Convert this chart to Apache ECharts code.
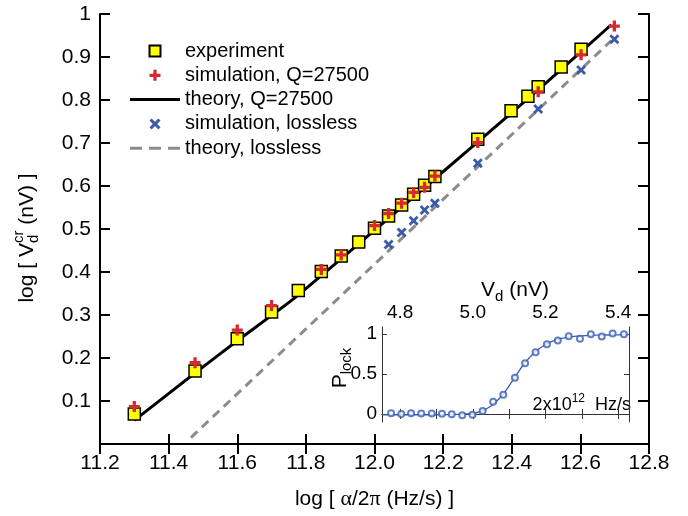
<!DOCTYPE html>
<html>
<head>
<meta charset="utf-8">
<script src="https://cdn.jsdelivr.net/npm/echarts@6/dist/echarts.min.js"></script>
<style>
  html, body { margin: 0; padding: 0; background: #fff; }
  #chart { width: 688px; height: 516px; }
</style>
</head>
<body>
<div id="chart"></div>
<script>
const FONT = '"Liberation Sans", Arial, sans-serif';
const SERIF = '"Liberation Serif", "DejaVu Serif", serif';

// main panel: log10(sweep rate) vs log10(critical drive)
const expX = [11.30, 11.477, 11.60, 11.70, 11.778, 11.845, 11.903, 11.954, 12.0, 12.041, 12.079, 12.114, 12.146, 12.176, 12.301, 12.398, 12.447, 12.477, 12.544, 12.602];
const expY = [0.070, 0.170, 0.245, 0.307, 0.357, 0.401, 0.437, 0.470, 0.502, 0.530, 0.556, 0.581, 0.602, 0.622, 0.709, 0.775, 0.809, 0.831, 0.877, 0.918];
const simQX = [11.30, 11.477, 11.60, 11.70, 11.845, 11.903, 12.0, 12.041, 12.079, 12.114, 12.146, 12.176, 12.301, 12.477, 12.602, 12.699];
const simQY = [0.087, 0.189, 0.265, 0.322, 0.406, 0.440, 0.508, 0.536, 0.560, 0.585, 0.597, 0.623, 0.701, 0.819, 0.905, 0.972];
const theoryQX = [11.30, 11.477, 11.60, 11.76, 12.0, 12.28, 12.50, 12.69];
const theoryQY = [0.055, 0.165, 0.240, 0.335, 0.497, 0.688, 0.840, 0.975];
const simLX = [12.041, 12.079, 12.114, 12.146, 12.176, 12.301, 12.477, 12.602, 12.699];
const simLY = [0.464, 0.492, 0.519, 0.544, 0.560, 0.653, 0.779, 0.870, 0.941];
const theoryLX = [11.465, 12.69];
const theoryLY = [0.015, 0.938];

// inset: locking probability vs drive amplitude
const insetV = [4.775, 4.803, 4.830, 4.858, 4.887, 4.915, 4.942, 4.971, 4.999, 5.027, 5.056, 5.084, 5.116, 5.144, 5.173, 5.204, 5.234, 5.264, 5.295, 5.325, 5.355, 5.385, 5.416];
const insetP = [0.01, 0.0, 0.01, 0.005, 0.008, 0.004, -0.004, -0.017, -0.008, 0.037, 0.154, 0.242, 0.454, 0.637, 0.775, 0.875, 0.921, 0.975, 0.942, 1.0, 0.971, 1.008, 1.0];
const fitV = [4.75, 4.85, 4.95, 4.99, 5.02, 5.05, 5.08, 5.11, 5.14, 5.17, 5.20, 5.23, 5.26, 5.30, 5.36, 5.43];
const fitP = [-0.012, -0.012, -0.005, 0.005, 0.03, 0.10, 0.23, 0.42, 0.62, 0.77, 0.87, 0.93, 0.96, 0.98, 0.99, 0.995];
const insetTicksV = [4.8, 4.9, 5.0, 5.1, 5.2, 5.3, 5.4];
const insetLabelsV = [4.8, 5.0, 5.2, 5.4];
const insetTicksP = [0, 0.5, 1];

const zip = (xs, ys) => xs.map((x, i) => [x, ys[i]]);

const SQUARE = 'path://M0,0 H10 V10 H0 Z';
const PLUS = 'path://M3.5,0 H6.5 V3.5 H10 V6.5 H6.5 V10 H3.5 V6.5 H0 V3.5 H3.5 Z';
const CROSS = 'path://M0,2 L2,0 L5,3 L8,0 L10,2 L7,5 L10,8 L8,10 L5,7 L2,10 L0,8 L3,5 Z';
const SOLID_ICON = 'path://M0,0 H50 V3 H0 Z';
const DASH_ICON = 'path://M0,0 H12 V3 H0 Z M19,0 H31 V3 H19 Z M38,0 H50 V3 H38 Z';

// text with sub/superscripts, built from measured pieces
const ctx = document.createElement('canvas').getContext('2d');
function textW(s, size, fam) {
  ctx.font = size + 'px ' + fam;
  return ctx.measureText(s).width;
}
function mathLabel(parts, x, y, rotation, align) {
  let cursor = 0;
  const children = [];
  parts.forEach(p => {
    const items = Array.isArray(p) ? p : [p];
    let w = 0;
    items.forEach(it => {
      const fam = it.family || FONT;
      w = Math.max(w, textW(it.t, it.size, fam));
      children.push({
        type: 'text', x: cursor, y: it.dy || 0,
        style: {
          text: it.t, font: it.size + 'px ' + fam, fill: '#000',
          align: 'left', verticalAlign: 'middle',
          textAlign: 'left', textVerticalAlign: 'middle'
        }
      });
    });
    cursor += w;
  });
  const shift = align === 'right' ? -cursor : -cursor / 2;
  children.forEach(c => { c.x += shift; });
  return { type: 'group', x: x, y: y, rotation: rotation, z: 20, children: children };
}

const blackAxis = { lineStyle: { color: '#000', width: 2 } };
const blackTick = (len) => ({ inside: true, length: len, lineStyle: { color: '#000', width: 2 } });
const insetLine = { lineStyle: { color: '#333', width: 1 } };
const insetTick = { inside: true, length: 5, lineStyle: { color: '#333', width: 1 } };

const chart = echarts.init(document.getElementById('chart'));
chart.setOption({
  animation: false,
  backgroundColor: '#fff',
  textStyle: { fontFamily: FONT },
  grid: [
    { left: 100, top: 14, width: 549, height: 430 },
    { left: 382, top: 327, width: 247, height: 95, show: true, backgroundColor: '#fff', borderWidth: 0 }
  ],
  legend: {
    orient: 'vertical',
    left: 125,
    top: 36,
    padding: 5,
    itemWidth: 50,
    itemHeight: 11,
    itemGap: 4.3,
    textStyle: { fontSize: 20, lineHeight: 20, color: '#000', fontFamily: FONT },
    data: [
      { name: 'experiment' },
      { name: 'simulation, Q=27500' },
      { name: 'theory, Q=27500', icon: SOLID_ICON },
      { name: 'simulation, lossless' },
      { name: 'theory, lossless', icon: DASH_ICON }
    ]
  },
  xAxis: [
    {
      type: 'value', gridIndex: 0, position: 'bottom', min: 11.2, max: 12.8, interval: 0.2,
      axisLine: blackAxis, axisTick: blackTick(10), splitLine: { show: false },
      axisLabel: { fontSize: 21, color: '#000', margin: 9, formatter: v => v.toFixed(1) },
      name: '{n|log [ }{g|α}{n|/2}{g|π}{n| (Hz/s) ]}',
      nameLocation: 'middle', nameGap: 44,
      nameTextStyle: {
        rich: {
          n: { fontSize: 21, fontFamily: FONT, color: '#000' },
          g: { fontSize: 22, fontFamily: SERIF, color: '#000' }
        }
      }
    },
    {
      type: 'value', gridIndex: 0, position: 'top', min: 11.2, max: 12.8, interval: 0.2,
      axisLine: blackAxis, axisTick: blackTick(10), axisLabel: { show: false }, splitLine: { show: false }
    },
    {
      type: 'value', gridIndex: 1, position: 'top', min: 4.75, max: 5.43,
      axisLine: insetLine, splitLine: { show: false },
      axisTick: Object.assign({}, insetTick, { customValues: insetTicksV }),
      axisLabel: { fontSize: 19, color: '#000', margin: 5, customValues: insetLabelsV, formatter: v => v.toFixed(1) }
    },
    {
      type: 'value', gridIndex: 1, position: 'bottom', min: 4.75, max: 5.43,
      axisLine: insetLine, splitLine: { show: false },
      axisTick: Object.assign({}, insetTick, { customValues: insetTicksV }),
      axisLabel: { show: false }
    }
  ],
  yAxis: [
    {
      type: 'value', gridIndex: 0, position: 'left', min: 0, max: 1, interval: 0.1,
      axisLine: blackAxis, axisTick: blackTick(10), splitLine: { show: false },
      axisLabel: {
        fontSize: 21, color: '#000', margin: 9,
        formatter: v => (v < 0.01 ? '' : (v > 0.99 ? '1' : v.toFixed(1)))
      }
    },
    {
      type: 'value', gridIndex: 0, position: 'right', min: 0, max: 1, interval: 0.1,
      axisLine: blackAxis, axisTick: blackTick(11), axisLabel: { show: false }, splitLine: { show: false }
    },
    {
      type: 'value', gridIndex: 1, position: 'left', min: -0.1, max: 1.09,
      axisLine: insetLine, splitLine: { show: false },
      axisTick: Object.assign({}, insetTick, { customValues: insetTicksP }),
      axisLabel: {
        fontSize: 19, color: '#000', margin: 5, customValues: insetTicksP,
        formatter: v => (v > 0.9 ? '1' : (v > 0.4 ? '0.5' : '0'))
      }
    },
    {
      type: 'value', gridIndex: 1, position: 'right', min: -0.1, max: 1.09,
      axisLine: insetLine, splitLine: { show: false },
      axisTick: Object.assign({}, insetTick, { customValues: insetTicksP }),
      axisLabel: { show: false }
    }
  ],
  series: [
    {
      name: 'experiment', type: 'scatter', xAxisIndex: 0, yAxisIndex: 0, z: 3,
      data: zip(expX, expY), symbol: SQUARE, symbolSize: 12,
      itemStyle: { color: '#ffff00', borderColor: '#000', borderWidth: 1.5, opacity: 1 }
    },
    {
      name: 'simulation, Q=27500', type: 'scatter', xAxisIndex: 0, yAxisIndex: 0, z: 4,
      data: zip(simQX, simQY), symbol: PLUS, symbolSize: 11,
      itemStyle: { color: '#d42a30', opacity: 1 }
    },
    {
      name: 'theory, Q=27500', type: 'line', xAxisIndex: 0, yAxisIndex: 0, z: 2,
      data: zip(theoryQX, theoryQY), symbol: 'none', smooth: 0.2,
      lineStyle: { color: '#000', width: 3 }, itemStyle: { color: '#000' }
    },
    {
      name: 'simulation, lossless', type: 'scatter', xAxisIndex: 0, yAxisIndex: 0, z: 4,
      data: zip(simLX, simLY), symbol: CROSS, symbolSize: 10,
      itemStyle: { color: '#3b5ba8', opacity: 1 }
    },
    {
      name: 'theory, lossless', type: 'line', xAxisIndex: 0, yAxisIndex: 0, z: 2,
      data: zip(theoryLX, theoryLY), symbol: 'none',
      lineStyle: { color: '#8c8c8c', width: 3, type: [9, 6] }, itemStyle: { color: '#8c8c8c' }
    },
    {
      name: 'fit', type: 'line', xAxisIndex: 2, yAxisIndex: 2, z: 5,
      data: zip(fitV, fitP), symbol: 'none', smooth: 0.5,
      lineStyle: { color: '#3a5fb5', width: 1.3 }
    },
    {
      name: 'Plock', type: 'scatter', xAxisIndex: 2, yAxisIndex: 2, z: 6,
      data: zip(insetV, insetP), symbol: 'emptyCircle', symbolSize: 6,
      itemStyle: { color: '#3a5fb5', borderColor: '#3a5fb5', borderWidth: 1.2 }
    }
  ],
  graphic: [
    mathLabel([
      { t: 'log [ V', size: 21 },
      [{ t: 'cr', size: 15, dy: -8 }, { t: 'd', size: 15, dy: 7 }],
      { t: ' (nV) ]', size: 21 }
    ], 27, 238, Math.PI / 2, 'center'),
    mathLabel([
      { t: 'V', size: 21 },
      { t: 'd', size: 15, dy: 7 },
      { t: ' (nV)', size: 21 }
    ], 515, 290, 0, 'center'),
    mathLabel([
      { t: 'P', size: 21 },
      { t: 'lock', size: 15, dy: 7 }
    ], 340, 368, Math.PI / 2, 'center'),
    mathLabel([
      { t: '2x10', size: 18 },
      { t: '12', size: 12, dy: -6 },
      { t: '  Hz/s', size: 18 }
    ], 631, 405, 0, 'right')
  ]
});
</script>
</body>
</html>
